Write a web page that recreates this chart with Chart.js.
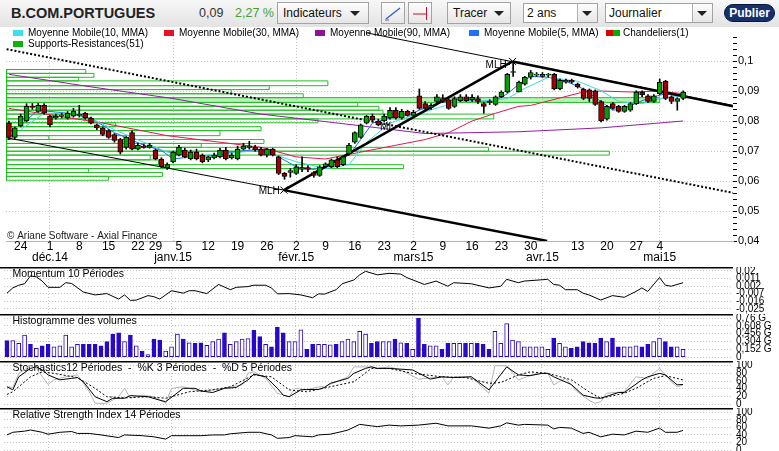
<!DOCTYPE html>
<html>
<head>
<meta charset="utf-8">
<script src="https://cdn.jsdelivr.net/npm/chart.js@4.4.1/dist/chart.umd.min.js"></script>
<style>
  html, body { margin: 0; padding: 0; background: #fff; }
  body { width: 779px; height: 451px; overflow: hidden; position: relative; font-family: "Liberation Sans", Arial, sans-serif; }
  #bar { position: absolute; left: 0; top: 0; width: 779px; height: 27px; background: linear-gradient(#f7f7f7, #e3e3e3); }
  #bar .t { position: absolute; top: 0; line-height: 27px; white-space: nowrap; }
  .ttl { left: 11px; font-weight: bold; font-size: 14.5px; color: #222; }
  .last { left: 199px; font-size: 12.5px; color: #333; }
  .var { left: 235px; font-size: 12.5px; color: #45a032; }
  .btn { position: absolute; top: 2px; height: 22px; line-height: 20px; border: 1px solid #a3a3a3; box-sizing: border-box;
         background: linear-gradient(#fdfdfd, #e6e6e6); font-size: 12px; padding-left: 5px; color: #111; white-space: nowrap; }
  .ico { padding-left: 0; }
  .tri { position: absolute; top: 8px; width: 0; height: 0; border-left: 5px solid transparent; border-right: 5px solid transparent; border-top: 5px solid #222; }
  .sel { top: 3px; height: 20px; line-height: 18px; background: #fff; padding-left: 3px; }
  .dd { position: absolute; right: 0; top: 0; width: 19px; height: 18px; border-left: 1px solid #b0b0b0; background: linear-gradient(#fdfdfd, #e6e6e6); }
  .dd::after { content: ""; position: absolute; left: 4px; top: 7px; border-left: 5px solid transparent; border-right: 5px solid transparent; border-top: 5px solid #222; }
  .pub { position: absolute; left: 724px; top: 4px; width: 51px; height: 18px; border-radius: 9px; background: #17306c; color: #fff;
         font-weight: bold; font-size: 12px; line-height: 16px; text-align: center; border: 1px solid #0a1840; box-sizing: border-box; }
  canvas { position: absolute; left: 0; }
</style>
</head>
<body>
<div id="bar">
  <div class="t ttl">B.COM.PORTUGUES</div>
  <div class="t last">0,09</div>
  <div class="t var">2,27 %</div>
  <div class="btn" style="left:277px;width:92px">Indicateurs<span class="tri" style="left:72px"></span></div>
  <div class="btn ico" style="left:381px;width:24px"><svg width="22" height="20"><line x1="4" y1="16" x2="18" y2="5" stroke="#2b5cd6" stroke-width="1.3"/><line x1="3" y1="17" x2="7" y2="17" stroke="#666"/></svg></div>
  <div class="btn ico" style="left:408px;width:24px"><svg width="22" height="20"><line x1="4" y1="11" x2="17" y2="11" stroke="#c8102e"/><line x1="17.5" y1="4" x2="17.5" y2="17" stroke="#c8102e"/></svg></div>
  <div class="btn" style="left:447px;width:64px">Tracer<span class="tri" style="left:46px"></span></div>
  <div class="btn sel" style="left:523px;width:75px">2 ans<span class="dd"></span></div>
  <div class="btn sel" style="left:605px;width:108px">Journalier<span class="dd"></span></div>
  <div class="pub">Publier</div>
</div>
<canvas id="cMain" width="779" height="240" style="top:27px"></canvas>
<canvas id="cMom" width="779" height="47" style="top:267px"></canvas>
<canvas id="cVol" width="779" height="47" style="top:314px"></canvas>
<canvas id="cSto" width="779" height="47" style="top:361px"></canvas>
<canvas id="cRsi" width="779" height="43" style="top:408px"></canvas>
<script>
// Séances du 20 nov. 2014 au 8 mai 2015 (index 0..115), graduations sous l'axe
const dayIdx = [2, 7, 12, 17, 22, 25, 29, 34, 39, 44, 49, 54, 59, 64, 69, 74, 79, 84, 89, 97, 102, 107, 111];
const dayLbl = ['24', '1', '8', '15', '22', '29', '5', '12', '19', '26', '2', '9', '16', '23', '2', '9', '16', '23', '30', '13', '20', '27', '4'];
const monthIdx = [7, 28, 49, 69, 91, 111];
const monthLbl = ['déc.14', 'janv.15', 'févr.15', 'mars15', 'avr.15', 'mai15'];

// Chandeliers
const open = [.0794,.0746,.0785,.0801,.0850,.0833,.0853,.0817,.0811,.0817,
  .0811,.0817,.0820,.0827,.0811,.0788,.0778,.0769,.0756,.0739,
  .0713,.0762,.0707,.0717,.0713,.0704,.0674,.0645,.0665,.0687,
  .0704,.0674,.0697,.0687,.0671,.0678,.0681,.0704,.0678,.0674,
  .0707,.0713,.0713,.0707,.0687,.0707,.0681,.0626,.0629,.0626,
  .0639,.0645,.0629,.0619,.0648,.0648,.0671,.0655,.0691,.0730,
  .0746,.0794,.0817,.0801,.0801,.0811,.0837,.0811,.0833,.0820,
  .0885,.0859,.0846,.0866,.0876,.0872,.0850,.0869,.0882,.0872,
  .0876,.0859,.0866,.0856,.0882,.0898,.0963,.0898,.0924,.0947,
  .0954,.0950,.0954,.0957,.0908,.0931,.0937,.0924,.0908,.0905,
  .0902,.0866,.0807,.0859,.0850,.0833,.0837,.0859,.0898,.0885,
  .0866,.0892,.0934,.0882,.0866,.0876];
const close = [.0746,.0778,.0817,.0850,.0846,.0853,.0827,.0788,.0817,.0820,
  .0827,.0833,.0822,.0811,.0794,.0778,.0756,.0746,.0736,.0697,
  .0746,.0707,.0720,.0713,.0720,.0674,.0648,.0655,.0697,.0713,
  .0681,.0697,.0674,.0665,.0681,.0687,.0704,.0674,.0687,.0707,
  .0717,.0717,.0704,.0687,.0707,.0687,.0626,.0616,.0635,.0648,
  .0645,.0639,.0619,.0648,.0658,.0671,.0648,.0681,.0720,.0762,
  .0788,.0817,.0804,.0788,.0817,.0837,.0811,.0833,.0820,.0830,
  .0843,.0843,.0853,.0882,.0866,.0843,.0876,.0882,.0869,.0880,
  .0866,.0850,.0863,.0882,.0898,.0957,.0966,.0931,.0947,.0963,
  .0957,.0957,.0954,.0908,.0937,.0937,.0931,.0915,.0876,.0876,
  .0856,.0801,.0850,.0843,.0833,.0850,.0859,.0898,.0889,.0866,
  .0885,.0931,.0876,.0866,.0876,.0898];
const high = [.0801,.0781,.0824,.0859,.0860,.0860,.0859,.0820,.0824,.0827,
  .0833,.0843,.0853,.0830,.0814,.0791,.0781,.0772,.0759,.0743,
  .0749,.0769,.0726,.0723,.0726,.0707,.0678,.0661,.0700,.0720,
  .0710,.0704,.0707,.0691,.0684,.0694,.0710,.0713,.0694,.0717,
  .0726,.0733,.0720,.0713,.0710,.0710,.0684,.0629,.0642,.0655,
  .0681,.0652,.0632,.0652,.0661,.0674,.0681,.0684,.0726,.0765,
  .0791,.0820,.0824,.0807,.0824,.0846,.0846,.0840,.0837,.0837,
  .0908,.0866,.0859,.0889,.0889,.0876,.0882,.0889,.0889,.0889,
  .0885,.0863,.0872,.0885,.0902,.0960,.0996,.0934,.0950,.0970,
  .0963,.0963,.0960,.0960,.0941,.0941,.0941,.0928,.0911,.0908,
  .0905,.0869,.0853,.0863,.0853,.0853,.0863,.0902,.0902,.0889,
  .0889,.0941,.0937,.0885,.0879,.0902];
const low = [.0739,.0740,.0781,.0798,.0840,.0830,.0824,.0781,.0807,.0811,
  .0807,.0814,.0814,.0807,.0791,.0772,.0752,.0743,.0730,.0691,
  .0707,.0704,.0704,.0710,.0710,.0671,.0645,.0639,.0661,.0684,
  .0678,.0671,.0671,.0661,.0665,.0674,.0678,.0671,.0674,.0671,
  .0704,.0707,.0700,.0684,.0681,.0684,.0622,.0606,.0613,.0622,
  .0632,.0632,.0613,.0616,.0645,.0645,.0645,.0652,.0687,.0726,
  .0743,.0791,.0798,.0785,.0798,.0807,.0807,.0807,.0817,.0817,
  .0840,.0840,.0840,.0863,.0863,.0840,.0846,.0866,.0866,.0866,
  .0859,.0827,.0856,.0853,.0879,.0895,.0950,.0898,.0921,.0941,
  .0950,.0947,.0947,.0905,.0905,.0927,.0927,.0911,.0872,.0866,
  .0853,.0798,.0804,.0840,.0830,.0830,.0833,.0856,.0882,.0863,
  .0863,.0889,.0872,.0859,.0837,.0872];

// Volumes en milliards de titres
const volume = [0.32,0.32,0.27,0.43,0.25,0.17,0.22,0.25,0.20,0.22,
  0.43,0.20,0.25,0.25,0.25,0.25,0.22,0.30,0.45,0.47,
  0.30,0.43,0.22,0.12,0.05,0.35,0.33,0.12,0.20,0.45,
  0.35,0.28,0.27,0.28,0.23,0.30,0.35,0.47,0.25,0.30,
  0.35,0.36,0.52,0.40,0.25,0.20,0.58,0.47,0.30,0.30,
  0.53,0.15,0.25,0.25,0.25,0.24,0.25,0.30,0.35,0.30,
  0.50,0.45,0.27,0.30,0.30,0.30,0.35,0.28,0.27,0.15,
  0.76,0.25,0.22,0.22,0.15,0.27,0.27,0.27,0.27,0.27,
  0.27,0.25,0.15,0.50,0.27,0.65,0.33,0.30,0.20,0.20,
  0.20,0.20,0.15,0.37,0.27,0.20,0.17,0.20,0.30,0.28,
  0.27,0.37,0.30,0.37,0.20,0.20,0.20,0.22,0.20,0.25,
  0.30,0.37,0.30,0.20,0.20,0.15];

// Moyennes mobiles (points relevés)
const ma5Idx = [2,5,10,14,18,23,26,28,31,36,38,43,46,49,52,54,58,60,62,65,68,70,73,77,80,83,85,87,89,92,95,98,101,103,105,108,110,112,115];
const ma5 = [.0788,.0837,.0827,.0811,.0762,.0720,.0703,.0674,.0681,.0687,.0697,.0707,.0681,.0648,.0639,.0648,.0687,.0739,.0794,.0811,.0820,.0837,.0859,.0876,.0866,.0869,.0892,.0924,.0950,.0947,.0934,.0908,.0866,.0837,.0843,.0869,.0882,.0892,.0882];
const ma10Idx = [2,6,12,18,23,27,31,36,43,49,54,58,61,65,69,74,77,82,85,88,92,97,101,104,108,111,115];
const ma10 = [.0772,.0827,.0827,.0772,.0730,.0697,.0681,.0691,.0703,.0665,.0642,.0655,.0730,.0794,.0820,.0850,.0866,.0869,.0876,.0910,.0947,.0934,.0902,.0866,.0859,.0876,.0885];
const ma30Idx = [0,16,27,43,49,54,60,66,71,75,79,83,87,89,98,101,106,111,115];
const ma30 = [.0843,.0794,.0752,.0713,.0681,.0674,.0697,.0720,.0739,.0762,.0801,.0827,.0850,.0853,.0898,.0901,.0898,.0901,.0892];
const ma90Idx = [0,14,28,43,60,71,87,101,115];
const ma90 = [.0957,.0915,.0876,.0824,.0785,.0759,.0765,.0778,.0801];

// Supports-Resistances : bas, haut, dernière séance couverte
const srLow = [.0960,.0947,.0935,.0919,.0906,.0892,.0879,.0863,.0850,.0837,.0824,.0808,.0795,.0782,.0769,.0752,.0739,.0726,.0713,.0700,.0687,.0671,.0655,.0642,.0629,.0616,.0603];
const srHigh = [.0973,.0960,.0947,.0935,.0919,.0906,.0892,.0879,.0863,.0850,.0837,.0824,.0808,.0795,.0782,.0769,.0752,.0739,.0726,.0713,.0700,.0687,.0671,.0655,.0642,.0629,.0616];
const srEnd = [13.1,14.5,11.9,54.4,44.4,37.9,50.2,111,59.5,63.1,63.8,82.7,52.7,18.2,43,36,6.8,43.5,32.8,81.8,102.4,24.1,25.5,67.3,13.6,26.2,17];
const srActive = 7;

// Tracés (fourchette MLH) : [séance, cours]
const lineUpperThin = [[60.9, .1096], [123.5, .0853]];
const lineUpperThick = [[85.9, .1000], [123.5, .0850]];
const lineMedian = [[46.9, .0570], [85.9, .1000]];
const lineLowerThin = [[-0.4, .0745], [46.9, .0570]];
const lineLowerThick = [[46.9, .0570], [91.8, .0400]];
const lineDotted = [[-0.4, .1041], [123.5, .0561]];
const mlhPoints = [[46.9, .0570], [85.9, .1000]];

// Momentum 10
const momIdx = [0,1,2,3,4,5,6,7,9,10,11,13,15,17,19,20,21,22,24,25,26,28,30,31,32,34,36,38,39,41,42,44,45,46,48,50,52,53,54,56,57,59,60,61,63,65,67,68,71,73,75,76,79,82,84,85,87,88,92,93,94,95,97,98,99,101,103,105,107,108,109,111,112,113,115];
const mom = [-0.0063,-0.0001,0.0031,0.0048,0.0142,0.0130,0.0080,0.0006,0.0006,0.0061,0.0052,-0.0050,-0.0084,-0.0068,-0.0133,-0.0084,-0.0149,-0.0145,-0.0092,-0.0105,-0.0133,-0.0034,-0.0063,-0.0034,-0.0034,-0.0068,0.0040,-0.0022,0.0006,0.0015,0.0031,0.0031,-0.0001,-0.0071,-0.0068,-0.0084,-0.0117,-0.0071,-0.0075,-0.0022,0.0048,0.0093,0.0154,0.0196,0.0154,0.0172,0.0163,0.0122,0.0040,0.0080,0.0019,0.0061,0.0048,-0.0001,0.0019,0.0101,0.0061,0.0080,0.0101,0.0040,0.0031,-0.0022,-0.0022,-0.0063,-0.0084,-0.0145,-0.0092,-0.0112,-0.0043,-0.0001,-0.0043,0.0122,0.0031,0.0019,0.0061];

// Stochastique : %K 3, %D 5 et brute 12
const kIdx = [0,1,2,4,5,6,7,9,11,12,13,15,17,18,20,21,24,26,27,30,32,33,35,37,39,41,42,44,46,47,48,50,51,53,54,55,58,59,61,62,63,65,67,69,72,74,76,79,82,85,87,89,91,92,93,96,98,100,101,104,105,108,109,111,112,114,115];
const kVal = [45,37,71,93,97,89,76,63,67,69,58,19,6,15,15,22,19,10,6,41,41,34,30,41,43,63,78,71,41,23,19,37,38,38,43,54,67,80,93,97,93,93,91,89,65,71,69,71,37,97,76,74,80,80,71,51,23,16,15,30,30,63,71,80,76,50,51];
const dIdx = [0,1,4,6,8,12,15,17,20,24,27,31,35,38,42,45,48,51,55,59,62,65,69,74,78,82,84,87,89,92,96,99,101,105,107,110,112,115];
const dVal = [25,32,71,84,80,69,41,19,16,19,15,32,37,45,76,71,37,32,45,58,93,93,80,71,69,54,56,76,84,80,63,32,15,28,41,67,74,63];
const rawIdx = [0,1,2,4,5,7,8,10,12,14,15,17,19,20,21,23,25,27,28,30,33,35,37,40,41,42,44,46,48,49,51,53,54,56,58,59,62,63,65,67,70,74,75,76,79,82,83,85,87,90,92,93,95,97,99,100,101,102,105,107,109,111,113,114,115];
const rawVal = [45,43,80,100,93,51,63,71,76,32,2,2,19,41,15,23,19,2,41,45,32,37,41,50,80,84,67,28,19,41,37,45,45,58,71,97,97,93,97,89,65,71,50,71,71,28,100,100,63,80,80,50,67,32,10,2,6,28,32,71,67,93,58,45,50];

// RSI 14
const rsiIdx = [0,1,3,4,6,7,9,11,12,14,16,19,20,23,25,27,28,31,33,35,37,38,41,43,45,46,48,49,52,53,55,57,58,60,62,63,65,67,70,73,75,79,82,84,85,87,88,92,93,94,96,98,99,101,103,105,107,109,111,112,114,115];
const rsiVal = [40,47,50,53,47,42,47,49,44,44,40,33,40,38,35,29,38,38,38,40,40,43,47,47,40,31,33,38,35,40,42,49,53,68,64,62,66,64,66,71,64,64,58,64,72,66,68,66,56,60,58,44,47,35,42,40,50,47,58,47,47,52];

// Graduations des axes de droite
const momTicks = [0.02, 0.011, 0.002, -0.007, -0.016, -0.025];
const volTicks = [0.76, 0.608, 0.456, 0.304, 0.152, 0];
const pctTicks = [100, 80, 60, 40, 20, 0];

const FONT = '"Liberation Sans", Arial, sans-serif';
Chart.defaults.font.family = FONT;
Chart.defaults.font.size = 11;
Chart.defaults.color = '#000';
Chart.defaults.animation = false;

const X_MIN = -0.5, X_MAX = 123.5;
const GRID = '#c4c4c4';
const GREEN = '#00a000', RED = '#a20000', VOL = '#2a08c8';

const pts = (idx, vals) => idx.map((x, k) => ({ x: x, y: vals[k] }));
const pairs = arr => arr.map(p => ({ x: p[0], y: p[1] }));
const tickIdx = [...new Set(dayIdx.concat(monthIdx))].sort((a, b) => a - b);

function xLabel(v) {
  let d = dayIdx.indexOf(v), m = monthIdx.indexOf(v);
  let day = d >= 0 ? dayLbl[d] : '';
  return m >= 0 ? [day, monthLbl[m]] : day;
}

function xScale(withLabels) {
  return {
    type: 'linear', min: X_MIN, max: X_MAX, bounds: 'data', offset: false,
    afterBuildTicks: s => { s.ticks = tickIdx.map(v => ({ value: v })); },
    afterFit: s => { s.height = withLabels ? 26 : 0; s.paddingLeft = 0; s.paddingRight = 0; },
    grid: { offset: false, drawTicks: false, color: c => (c.tick && monthIdx.includes(c.tick.value)) ? GRID : 'rgba(0,0,0,0)' },
    border: { display: withLabels, color: '#b4b4b4', dash: [1, 2] },
    ticks: { display: withLabels, autoSkip: false, maxRotation: 0, minRotation: 0, padding: 1,
             font: { size: 12, lineHeight: 0.85 }, callback: v => xLabel(v) }
  };
}

function yScale(min, max, ticks, fmt) {
  return {
    position: 'right', min: min, max: max, bounds: 'data',
    afterBuildTicks: s => { s.ticks = ticks.map(v => ({ value: v })); },
    afterFit: s => { s.width = 46; s.paddingTop = 0; s.paddingBottom = 0; },
    grid: { color: GRID, drawTicks: false },
    border: { display: false, dash: [1, 2] },
    ticks: { autoSkip: false, padding: 3, font: { size: 10 }, callback: fmt }
  };
}

const isMajor = v => Math.abs(v * 100 - Math.round(v * 100)) < 1e-6;
const fmtPrice = v => String(Math.round(v * 100) / 100).replace('.', ',');

function lineSet(data, color, width, order, extra) {
  return Object.assign({ type: 'line', data: data, borderColor: color, borderWidth: width, pointRadius: 0, tension: 0, fill: false, order: order }, extra || {});
}

// ---- graphique principal
let mainSets = [];
srLow.forEach(function (lo, k) {
  let hi = srHigh[k], x1 = srEnd[k];
  mainSets.push(lineSet([{ x: -0.4, y: lo }, { x: x1, y: lo }, { x: x1, y: hi }, { x: -0.4, y: hi }, { x: -0.4, y: lo }], '#22c022', 1, 9));
});
mainSets.push(lineSet([{ x: -0.4, y: srHigh[srActive] }, { x: srEnd[srActive], y: srHigh[srActive] }], 'rgba(0,0,0,0)', 0, 10,
  { fill: { value: srLow[srActive] }, backgroundColor: 'rgba(125,232,125,0.55)' }));
mainSets.push(lineSet(pts(ma90Idx, ma90), '#8e1f9e', 1, 6));
mainSets.push(lineSet(pts(ma30Idx, ma30), '#e3184c', 1, 6));
mainSets.push(lineSet(pts(ma10Idx, ma10), '#3fd9e6', 1, 5));
mainSets.push(lineSet(pts(ma5Idx, ma5), '#1f6cf2', 1, 5));
mainSets.push(lineSet(pairs(lineDotted), '#000', 2, 4, { borderDash: [2, 2] }));
mainSets.push(lineSet(pairs(lineUpperThin), '#000', 1, 4));
mainSets.push(lineSet(pairs(lineUpperThick), '#000', 2.5, 4));
mainSets.push(lineSet(pairs(lineMedian), '#000', 2.5, 4));
mainSets.push(lineSet(pairs(lineLowerThin), '#000', 1, 4));
mainSets.push(lineSet(pairs(lineLowerThick), '#000', 2.5, 4));
mainSets.push({
  type: 'bar', order: 2, grouped: false, barThickness: 1,
  data: low.map((l, i) => ({ x: i, y: [l, high[i]] })), backgroundColor: '#000'
});
mainSets.push({
  type: 'bar', order: 1, grouped: false, barThickness: 5, minBarLength: 1, borderSkipped: false,
  data: open.map((o, i) => ({ x: i, y: [o, close[i]] })),
  backgroundColor: open.map((o, i) => close[i] >= o ? GREEN : RED), borderColor: '#000', borderWidth: 1
});
mainSets.push(lineSet(pairs(mlhPoints), '#000', 1, 0, { showLine: false, pointStyle: 'crossRot', pointRadius: 5 }));

const legendItems = [
  { x: 13, y: 6, c: ['#3fe0ee'], t: 'Moyenne Mobile(10, MMA)' },
  { x: 164, y: 6, c: ['#e8102a'], t: 'Moyenne Mobile(30, MMA)' },
  { x: 315, y: 6, c: ['#9010a0'], t: 'Moyenne Mobile(90, MMA)' },
  { x: 469, y: 6, c: ['#2070ff'], t: 'Moyenne Mobile(5, MMA)' },
  { x: 606, y: 6, c: ['#e00000', '#00b000'], t: 'Chandeliers(1)' },
  { x: 13, y: 17, c: ['#10b010'], t: 'Supports-Resistances(51)' }
];

const mainDeco = {
  id: 'mainDeco',
  beforeDatasetsDraw(chart) {
    const ctx = chart.ctx;
    ctx.save();
    ctx.font = '10px ' + FONT;
    ctx.fillStyle = '#1a1a1a';
    ctx.textBaseline = 'middle';
    ctx.fillText('\u00a9 Ariane Software - Axial Finance', 7, 209);
    ctx.restore();
  },
  afterDatasetsDraw(chart) {
    const ctx = chart.ctx, xs = chart.scales.x, ys = chart.scales.y;
    ctx.save();
    ctx.font = '10px ' + FONT;
    ctx.textBaseline = 'middle';
    legendItems.forEach(function (it) {
      let w = it.c.length > 1 ? 7 : 10;
      it.c.forEach(function (col, k) { ctx.fillStyle = col; ctx.fillRect(it.x + k * w, it.y - 3, w, 6); });
      ctx.fillStyle = '#000';
      ctx.fillText(it.t, it.x + (it.c.length > 1 ? 17 : 15), it.y);
    });
    ctx.textAlign = 'right';
    ctx.fillText('MLH', xs.getPixelForValue(46.2), ys.getPixelForValue(.0567));
    ctx.fillText('MLH', xs.getPixelForValue(84.9), ys.getPixelForValue(.0986));
    ctx.textAlign = 'left';
    ctx.fillText('ML', xs.getPixelForValue(63.3), ys.getPixelForValue(.0779));
    ctx.restore();
  }
};

new Chart(document.getElementById('cMain'), {
  type: 'line',
  data: { datasets: mainSets },
  options: {
    responsive: false,
    layout: { padding: { left: 4, right: 0, top: 0, bottom: 0 } },
    scales: {
      x: xScale(true),
      y: {
        position: 'right', min: 0.04, max: 0.1095, bounds: 'data',
        afterBuildTicks: s => { let t = []; for (let k = 20; k <= 54; k++) t.push({ value: k / 500 }); s.ticks = t; },
        afterFit: s => { s.width = 46; s.paddingTop = 0; s.paddingBottom = 0; },
        grid: { color: c => (c.tick && isMajor(c.tick.value)) ? GRID : 'rgba(0,0,0,0)', tickColor: '#000', tickLength: 4, drawTicks: true },
        border: { display: false, dash: [1, 2] },
        ticks: { autoSkip: false, padding: 1, font: { size: 11 }, callback: v => isMajor(v) ? fmtPrice(v) : '' }
      }
    },
    plugins: { legend: { display: false }, tooltip: { enabled: false } }
  },
  plugins: [mainDeco]
});

// ---- panneaux inférieurs
function panelDeco(title) {
  return {
    id: 'panelDeco',
    beforeDatasetsDraw(chart) {
      const ctx = chart.ctx;
      ctx.save();
      ctx.font = '10.5px ' + FONT;
      ctx.fillStyle = '#000';
      ctx.textBaseline = 'middle';
      ctx.fillText(title, 12.5, 7);
      ctx.restore();
    },
    afterDraw(chart) {
      const ctx = chart.ctx;
      ctx.save();
      ctx.strokeStyle = '#000';
      ctx.lineWidth = 1.5;
      ctx.beginPath(); ctx.moveTo(0, 0.75); ctx.lineTo(chart.chartArea.right, 0.75); ctx.stroke();
      ctx.restore();
    }
  };
}

function panel(id, datasets, y, title) {
  return new Chart(document.getElementById(id), {
    type: 'line',
    data: { datasets: datasets },
    options: {
      responsive: false,
      layout: { padding: { left: 4, right: 0, top: 0, bottom: 0 } },
      scales: { x: xScale(false), y: y },
      plugins: { legend: { display: false }, tooltip: { enabled: false } }
    },
    plugins: [panelDeco(title)]
  });
}

panel('cMom', [lineSet(pts(momIdx, mom), '#000', 1, 1)],
  yScale(-0.031, 0.0247, momTicks, v => String(Math.round(v * 1000) / 1000).replace('.', ',')),
  'Momentum 10 Périodes');

panel('cVol', [{
    type: 'bar', barThickness: 4, borderSkipped: false, borderWidth: 1, borderColor: VOL,
    data: volume.map((v, i) => ({ x: i, y: v })),
    backgroundColor: open.map((o, i) => close[i] < o ? VOL : '#fff')
  }],
  yScale(-0.075, 0.838, volTicks, v => v === 0 ? '0' : String(v).replace('.', ',') + ' G'),
  'Histogramme des volumes');

panel('cSto', [
    lineSet(pts(rawIdx, rawVal), '#b4b4b4', 1, 3),
    lineSet(pts(dIdx, dVal), '#000', 1, 2, { borderDash: [2, 2] }),
    lineSet(pts(kIdx, kVal), '#000', 1, 1)
  ],
  yScale(-10.4, 112.3, pctTicks, v => String(v)),
  'Stochastics12 Périodes  -  %K 3 Périodes  -  %D 5 Périodes');

panel('cRsi', [lineSet(pts(rsiIdx, rsiVal), '#000', 1, 1)],
  yScale(-2.6, 111.4, pctTicks, v => String(v)),
  'Relative Strength Index 14 Périodes');
</script>
</body>
</html>
